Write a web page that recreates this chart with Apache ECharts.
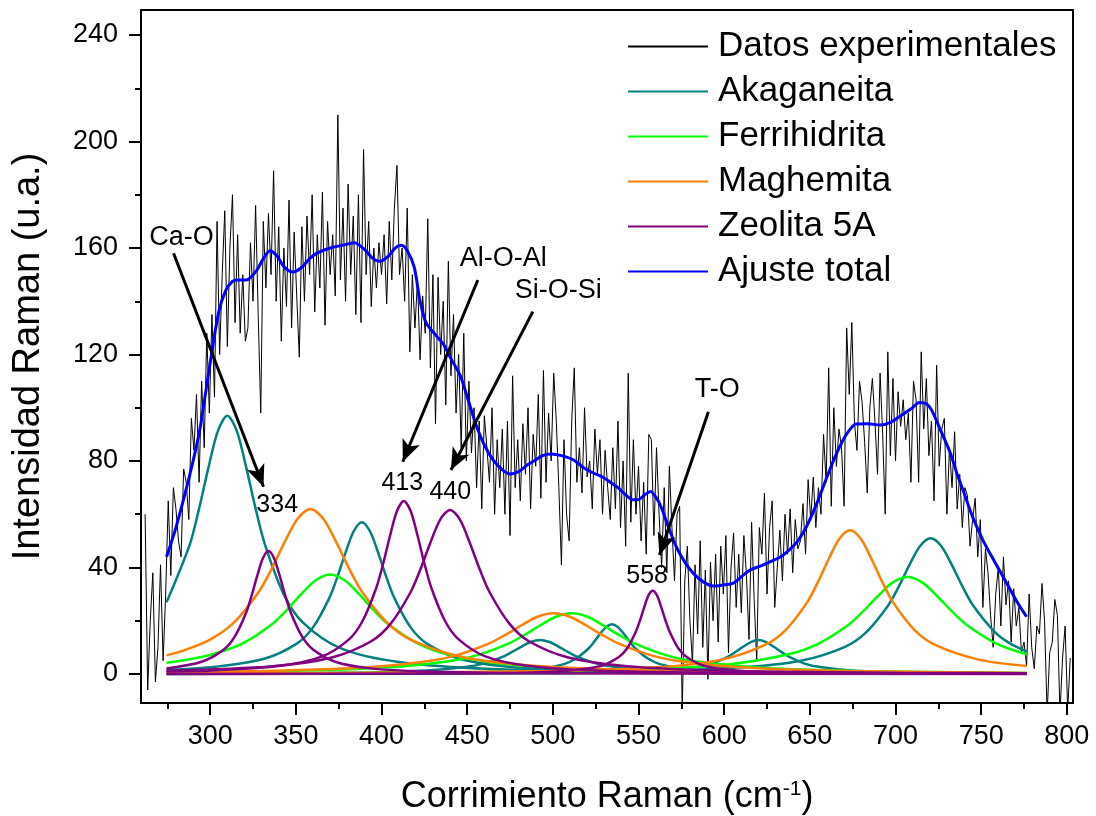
<!DOCTYPE html>
<html>
<head>
<meta charset="utf-8">
<script src="https://cdn.jsdelivr.net/npm/echarts@6/dist/echarts.min.js"></script>
<style>
  html, body { margin: 0; padding: 0; background: #fff; }
  #main { width: 1096px; height: 816px; }
</style>
</head>
<body>
<div id="main"></div>
<script>
// espectro experimental: un valor cada 1.5 cm-1 desde 262
const shiftStart = 262;
const shiftStep = 1.5;
const experimental = [
  60, -6, 20, 38, -3, 10, 41, 5, 30, 65, 37, 70, 62, 50, 44, 77, 72, 58, 96, 84,
  105, 72, 110, 85, 128, 98, 135, 104, 170, 120, 150, 174, 123, 160, 180, 132, 165, 128, 150, 125,
  130, 162, 140, 176, 135, 98, 170, 145, 173, 150, 189, 140, 168, 125, 160, 138, 178, 130, 166, 142,
  119, 168, 140, 172, 150, 180, 136, 165, 145, 181, 131, 170, 150, 165, 142, 210, 148, 175, 140, 184,
  150, 172, 135, 180, 132, 197, 150, 170, 138, 160, 145, 162, 150, 165, 139, 170, 148, 175, 191, 150,
  160, 140, 175, 121, 150, 130, 148, 118, 142, 128, 171, 115, 150, 94, 149, 120, 140, 101, 155, 112,
  135, 98, 120, 85, 128, 80, 110, 83, 100, 70, 95, 62, 97, 85, 72, 100, 60, 88, 70, 92,
  60, 95, 52, 112, 70, 88, 65, 94, 75, 100, 62, 90, 78, 105, 66, 114, 72, 98, 80, 113,
  95, 70, 41, 88, 60, 50, 95, 115, 72, 85, 68, 100, 74, 80, 62, 92, 75, 88, 60, 84,
  70, 58, 85, 62, 95, 55, 80, 48, 113, 57, 88, 60, 78, 50, 72, 45, 90, 88, 52, 85,
  60, 40, 70, 38, 78, 55, 35, 60, 63, -15, 35, 48, 20, 4, 41, 15, 50, 10, 39, -2,
  42, 20, 45, 12, 48, 30, 52, 8, 40, 53, 25, 45, 23, 52, 37, 13, 57, 28, 5, 55,
  45, 68, 30, 55, 65, 25, 40, 54, 35, 60, 45, 62, 38, 58, 47, 50, 64, 45, 73, 58,
  74, 55, 70, 60, 90, 72, 115, 63, 100, 78, 92, 85, 63, 130, 105, 132, 95, 84, 110, 102,
  87, 68, 100, 111, 95, 75, 113, 90, 60, 121, 82, 111, 80, 106, 93, 103, 88, 98, 72, 110,
  103, 72, 121, 92, 111, 82, 95, 65, 116, 78, 92, 96, 60, 85, 70, 91, 62, 75, 55, 70,
  67, 48, 58, 66, 44, 58, 25, 47, 38, 22, 10, 30, 40, 18, 44, 26, 35, 12, 32, 18,
  25, 8, 12, 3, 30, 10, 2, 18, 15, 34, 20, -15, 8, 12, 28, 22, -15, 6, 18, -14,
  6
];

// componentes del ajuste [cm-1, intensidad]
const akaganeita310 = [[274.5,26.9],[288,48.5],[293.5,62.1],[299,77.6],[304.5,91.3],[310,97],[315.5,91.3],[321,77.6],[326.5,62.1],[332,48.5],[343,29.8],[354,19.4],[376,9.7],[409,4.6],[464,1.9],[574,0.7],[776.5,0.2]];
const akaganeita388 = [[274.5,1.5],[303,2.7],[331.5,5.7],[350.5,11.4],[360,17.5],[369.5,28.5],[374.25,36.5],[379,45.6],[383.75,53.6],[388.5,57],[393.25,53.6],[398,45.6],[402.75,36.5],[407.5,28.5],[417,17.5],[426.5,11.4],[445.5,5.7],[474,2.7],[521.5,1.1],[616.5,0.4],[776.5,0.1]];
const akaganeita493 = [[274.5,0.1],[338.5,0.3],[393.5,0.6],[426.5,1.3],[448.5,2.6],[459.5,3.9],[470.5,6.4],[476,8.2],[481.5,10.2],[487,12.0],[492.5,12.8],[498,12.0],[503.5,10.2],[509,8.2],[514.5,6.4],[525.5,3.9],[536.5,2.6],[558.5,1.3],[591.5,0.6],[646.5,0.3],[776.5,0.1]];
const akaganeita535 = [[274.5,0.1],[366.5,0.1],[436.5,0.4],[471.5,0.9],[492.5,1.9],[506.5,3.7],[513.5,5.8],[520.5,9.4],[524,12.0],[527.5,15.0],[531,17.6],[534.5,18.7],[538,17.6],[541.5,15.0],[545,12.0],[548.5,9.4],[555.5,5.8],[562.5,3.7],[576.5,1.9],[597.5,0.9],[632.5,0.4],[702.5,0.1],[776.5,0.1]];
const akaganeita620 = [[274.5,0.0],[404,0.1],[494,0.3],[539,0.6],[566,1.3],[584,2.6],[593,3.9],[602,6.4],[606.5,8.2],[611,10.2],[615.5,12.0],[620,12.8],[624.5,12.0],[629,10.2],[633.5,8.2],[638,6.4],[647,3.9],[656,2.6],[674,1.3],[701,0.6],[746,0.3],[776.5,0.2]];
const akaganeita720 = [[274.5,0.2],[420.5,0.4],[545.5,1.0],[608,2.4],[645.5,5.1],[670.5,10.2],[683,15.7],[695.5,25.5],[701.75,32.6],[708,40.8],[714.25,48.0],[720.5,51],[726.75,48.0],[733,40.8],[739.25,32.6],[745.5,25.5],[758,15.7],[767,11.4],[776.5,8.5]];

const ferrihidrita370 = [[274.5,4.2],[288,5.5],[302,7.5],[319,11.5],[336,18.7],[344.5,23.9],[353,29.9],[361.5,35.2],[370,37.4],[378.5,35.2],[387,29.9],[395.5,23.9],[404,18.7],[421,11.5],[438,7.5],[472,3.7],[523,1.8],[608,0.7],[776.5,0.3]];
const ferrihidrita511 = [[274.5,0.5],[344.5,1.1],[400,2.3],[437,4.6],[455.5,7.0],[474,11.4],[483.25,14.6],[492.5,18.2],[501.75,21.5],[511,22.8],[520.25,21.5],[529.5,18.2],[538.75,14.6],[548,11.4],[566.5,7.0],[585,4.6],[622,2.3],[677.5,1.1],[776.5,0.4]];
const ferrihidrita707 = [[274.5,0.2],[462,0.7],[549.5,1.7],[602,3.6],[637,7.3],[654.5,11.2],[672,18.2],[680.75,23.3],[689.5,29.1],[698.25,34.3],[707,36.4],[715.75,34.3],[724.5,29.1],[733.25,23.3],[742,18.2],[759.5,11.2],[776.5,7.4]];

const maghemita359 = [[274.5,7.0],[283.5,8.6],[298.5,12.4],[313.5,19.1],[328.5,31],[336,39.7],[343.5,49.6],[351,58.3],[358.5,62],[366,58.3],[373.5,49.6],[381,39.7],[388.5,31],[403.5,19.1],[418.5,12.4],[448.5,6.2],[493.5,2.9],[568.5,1.2],[718.5,0.4],[776.5,0.3]];
const maghemita500 = [[274.5,0.6],[329.5,1.1],[386.5,2.3],[424.5,4.6],[443.5,7.0],[462.5,11.4],[472,14.6],[481.5,18.2],[491,21.5],[500.5,22.8],[510,21.5],[519.5,18.2],[529,14.6],[538.5,11.4],[557.5,7.0],[576.5,4.6],[614.5,2.3],[671.5,1.1],[776.5,0.4]];
const maghemita673 = [[274.5,0.2],[373.5,0.4],[498.5,1.1],[561,2.5],[598.5,5.4],[623.5,10.8],[636,16.6],[648.5,27],[654.75,34.6],[661,43.2],[667.25,50.8],[673.5,54],[679.75,50.8],[686,43.2],[692.25,34.6],[698.5,27],[711,16.6],[723.5,10.8],[748.5,5.4],[776.5,3.0]];

const zeolita334 = [[274.5,2.1],[295,4.6],[308,9.2],[314.5,14.2],[321,23.1],[324.25,29.6],[327.5,37.0],[330.75,43.5],[334,46.2],[337.25,43.5],[340.5,37.0],[343.75,29.6],[347,23.1],[353.5,14.2],[360,9.2],[373,4.6],[392.5,2.2],[425,0.9],[490,0.3],[776.5,0.0]];
const zeolita413 = [[274.5,0.9],[301,1.3],[341,3.1],[365,6.5],[381,13],[389,20],[397,32.5],[401,41.6],[405,52],[409,61.2],[413,65],[417,61.2],[421,52],[425,41.6],[429,32.5],[437,20],[445,13],[461,6.5],[485,3.1],[525,1.3],[605,0.4],[776.5,0.1]];
const zeolita440 = [[274.5,1.2],[336.5,2.9],[371,6.2],[394,12.3],[405.5,19.0],[417,30.8],[422.75,39.4],[428.5,49.3],[434.25,58.0],[440,61.6],[445.75,58.0],[451.5,49.3],[457.25,39.4],[463,30.8],[474.5,19.0],[486,12.3],[509,6.2],[543.5,2.9],[601,1.2],[716,0.4],[776.5,0.3]];
const zeolita558 = [[274.5,0.0],[438.3,0.2],[488.3,0.6],[513.3,1.5],[528.3,3.1],[538.3,6.3],[543.3,9.6],[548.3,15.7],[550.8,20.0],[553.3,25.0],[555.8,29.5],[558.3,31.3],[560.8,29.5],[563.3,25.0],[565.8,20.0],[568.3,15.7],[573.3,9.6],[578.3,6.3],[588.3,3.1],[603.3,1.5],[628.3,0.6],[678.3,0.2],[776.5,0.1]];

const ajusteTotal = [[274.5,44],[280,55],[285,67],[290,80],[294,92],[300,117],[305,136],[309,144],[313,147.5],[316,148],[321,148],[327,151.5],[331,156],[335,159],[339,157],[343,153],[348,151],[353,152.5],[358,156],[362,158],[370,160],[377,161],[384,162],[390,159.5],[395,156],[399,155],[404,157],[408,160],[411.5,161],[415,159],[419,153],[422.5,140],[426,132],[432,127],[436,124],[440,119],[446,112],[451,102],[455.5,93],[460,86],[465,80.5],[470,77],[475,75.1],[480,76],[485,78.5],[489,80],[494,82],[499,82.6],[505,82],[512,80.4],[518,77.5],[524,75.4],[529,74],[533.5,72],[538,70],[543,67],[547,65.4],[550,65.5],[554,67.5],[557,68.5],[560,66.5],[563,63],[567,56],[572,47.8],[577,42],[582,37.8],[588,34.5],[594,33],[600,33.5],[605,34],[610,36.5],[615,39],[621,40.5],[627,42.2],[633,44],[638,46.6],[643,50],[648,55.3],[654,64],[660,74],[665,82],[669.5,88],[673,91.5],[677,93.9],[684,94],[691,93.5],[697,94.5],[703,97],[709,99.5],[714,102],[718,101.5],[721,99.2],[726,92],[732,83],[736,75],[740,68],[745,59],[751,50.3],[758,42],[765,34],[771,27],[776.5,21.5]];

const xMajorTicks = [300, 350, 400, 450, 500, 550, 600, 650, 700, 750, 800];
const xMinorTicks = [275, 325, 375, 425, 475, 525, 575, 625, 675, 725, 775];
const yMajorTicks = [0, 40, 80, 120, 160, 200, 240];
const yMinorTicks = [20, 60, 100, 140, 180, 220];

const legendNames = ['Datos experimentales', 'Akaganeita', 'Ferrihidrita', 'Maghemita', 'Zeolita 5A', 'Ajuste total'];

// etiquetas de bandas y flechas (coordenadas en unidades de los ejes)
const bandLabels = [
  { text: 'Ca-O', at: [283.2, 163.8], size: 27 },
  { text: '334', at: [339.1, 63.5], size: 25 },
  { text: 'Al-O-Al', at: [471.0, 155.9], size: 27 },
  { text: '413', at: [412.1, 71.7], size: 25 },
  { text: 'Si-O-Si', at: [503.1, 143.9], size: 27 },
  { text: '440', at: [440.1, 68.4], size: 25 },
  { text: 'T-O', at: [595.9, 107.0], size: 27 },
  { text: '558', at: [555.0, 36.8], size: 25 }
];
const arrows = [
  [[278.6, 158.0], [331.1, 70.3]],
  [[456.2, 148.0], [412.4, 79.7]],
  [[488.3, 136.1], [440.5, 76.6]],
  [[590.8, 98.5], [562.2, 44.7]]
];

const FONT = '"Liberation Sans", Arial, Helvetica, sans-serif';
const X_MIN = 259.6, X_MAX = 803.6;
const Y_MIN = -10.9, Y_MAX = 249.4;

const experimentalData = experimental.map((v, i) => [shiftStart + i * shiftStep, v]);

function peak(name, color, pts) {
  return {
    name: name,
    type: 'line',
    data: pts,
    smooth: 0.3,
    symbol: 'none',
    lineStyle: { color: color, width: 2.5 },
    itemStyle: { color: color },
    silent: true
  };
}

const TEAL = '#008080', GREEN = '#00ff00', ORANGE = '#ff8000', PURPLE = '#800080', BLUE = '#0000ff';

const frameLine = { show: true, onZero: false, lineStyle: { color: '#000', width: 2 } };

const option = {
  animation: false,
  backgroundColor: '#fff',
  grid: { left: 141, right: 23, top: 10, bottom: 113, outerBoundsMode: 'none' },
  legend: {
    orient: 'vertical',
    left: 622,
    top: 24,
    itemWidth: 80,
    itemHeight: 14,
    itemGap: 10,
    selectedMode: false,
    data: legendNames,
    itemStyle: { opacity: 0 },
    textStyle: { fontSize: 35, color: '#000', fontFamily: FONT, padding: [0, 0, 0, 5] }
  },
  xAxis: [
    {
      type: 'value', min: X_MIN, max: X_MAX, position: 'bottom',
      axisLine: frameLine,
      axisTick: { show: true, length: 12, lineStyle: { color: '#000', width: 2 }, customValues: xMajorTicks },
      axisLabel: { customValues: xMajorTicks, fontSize: 27, color: '#000', fontFamily: FONT, margin: 20 },
      splitLine: { show: false },
      name: '{t|Corrimiento Raman (cm}{s|-1}{t|)}',
      nameLocation: 'middle',
      nameGap: 76,
      nameTextStyle: {
        rich: {
          t: { fontSize: 36, color: '#000', fontFamily: FONT },
          s: { fontSize: 21, color: '#000', fontFamily: FONT, verticalAlign: 'top' }
        }
      }
    },
    {
      type: 'value', min: X_MIN, max: X_MAX, position: 'bottom',
      axisLine: { show: false, onZero: false },
      axisTick: { show: true, length: 6, lineStyle: { color: '#000', width: 2 }, customValues: xMinorTicks },
      axisLabel: { show: false },
      splitLine: { show: false }
    },
    {
      type: 'value', min: X_MIN, max: X_MAX, position: 'top',
      axisLine: frameLine,
      axisTick: { show: false },
      axisLabel: { show: false },
      splitLine: { show: false }
    }
  ],
  yAxis: [
    {
      type: 'value', min: Y_MIN, max: Y_MAX, position: 'left',
      axisLine: frameLine,
      axisTick: { show: true, length: 12, lineStyle: { color: '#000', width: 2 }, customValues: yMajorTicks },
      axisLabel: { customValues: yMajorTicks, fontSize: 27, color: '#000', fontFamily: FONT, margin: 23 },
      splitLine: { show: false },
      name: 'Intensidad Raman (u.a.)',
      nameLocation: 'middle',
      nameGap: 93,
      nameTextStyle: { fontSize: 38, color: '#000', fontFamily: FONT }
    },
    {
      type: 'value', min: Y_MIN, max: Y_MAX, position: 'left',
      axisLine: { show: false, onZero: false },
      axisTick: { show: true, length: 6, lineStyle: { color: '#000', width: 2 }, customValues: yMinorTicks },
      axisLabel: { show: false },
      splitLine: { show: false }
    },
    {
      type: 'value', min: Y_MIN, max: Y_MAX, position: 'right',
      axisLine: frameLine,
      axisTick: { show: false },
      axisLabel: { show: false },
      splitLine: { show: false }
    }
  ],
  series: [
    {
      name: 'Datos experimentales',
      type: 'line',
      data: experimentalData,
      symbol: 'none',
      clip: true,
      lineStyle: { color: '#000', width: 1 },
      itemStyle: { color: '#000' },
      silent: true,
      markLine: {
        silent: true,
        symbol: ['none', 'arrow'],
        symbolSize: [0, 16],
        label: { show: false },
        lineStyle: { color: '#000', width: 3, type: 'solid' },
        emphasis: { disabled: true },
        data: arrows.map(a => [
          { coord: a[0], symbol: 'none' },
          { coord: a[1], symbol: 'arrow', symbolSize: [14, 22] }
        ])
      },
      markPoint: {
        silent: true,
        symbol: 'circle',
        symbolSize: 0,
        itemStyle: { color: 'transparent' },
        data: bandLabels.map(b => ({
          name: b.text,
          coord: b.at,
          label: {
            show: true, position: 'inside', formatter: b.text,
            fontSize: b.size, color: '#000', fontFamily: FONT
          }
        }))
      }
    },
    peak('Akaganeita', TEAL, akaganeita310),
    peak('Akaganeita', TEAL, akaganeita388),
    peak('Akaganeita', TEAL, akaganeita493),
    peak('Akaganeita', TEAL, akaganeita535),
    peak('Akaganeita', TEAL, akaganeita620),
    peak('Akaganeita', TEAL, akaganeita720),
    peak('Ferrihidrita', GREEN, ferrihidrita370),
    peak('Ferrihidrita', GREEN, ferrihidrita511),
    peak('Ferrihidrita', GREEN, ferrihidrita707),
    peak('Maghemita', ORANGE, maghemita359),
    peak('Maghemita', ORANGE, maghemita500),
    peak('Maghemita', ORANGE, maghemita673),
    peak('Zeolita 5A', PURPLE, zeolita334),
    peak('Zeolita 5A', PURPLE, zeolita413),
    peak('Zeolita 5A', PURPLE, zeolita440),
    peak('Zeolita 5A', PURPLE, zeolita558),
    {
      name: 'Ajuste total',
      type: 'line',
      data: ajusteTotal,
      smooth: 0.3,
      symbol: 'none',
      lineStyle: { color: BLUE, width: 3 },
      itemStyle: { color: BLUE },
      silent: true
    }
  ]
};

const chart = echarts.init(document.getElementById('main'));
chart.setOption(option);
</script>
</body>
</html>
